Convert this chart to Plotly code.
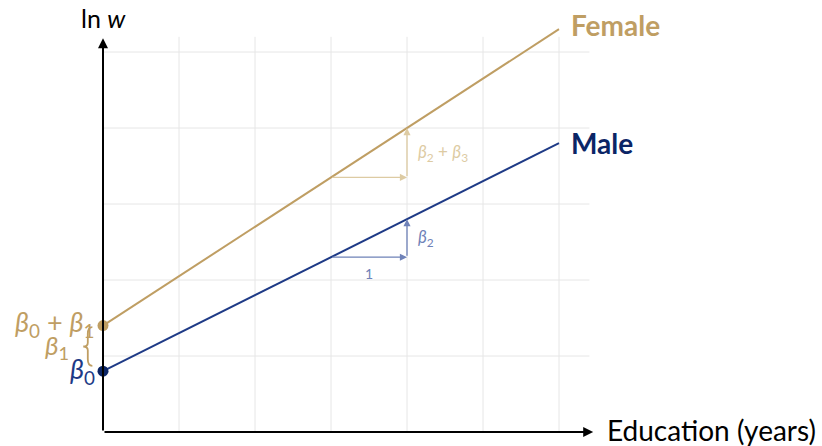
import plotly.graph_objects as go

# ---- data ----
education = [0, 6]
male_intercept = 0.8      # beta0
female_intercept = 1.4    # beta0 + beta1
male_slope = 0.5          # beta2
female_slope = 0.65       # beta2 + beta3
x_grid = [1, 2, 3, 4, 5, 6]
y_grid = [1, 2, 3, 4, 5]
step_from, step_to = 3, 4

GOLD = "#BF9E63"
GOLD_LIGHT = "#DDCBA3"
NAVY = "#1E3A86"
NAVY_DARK = "#0B2566"
NAVY_LIGHT = "#6F82B8"
GRID = "#E6E6E6"
FONT = "Lato"

male = [male_intercept + male_slope * x for x in education]
female = [female_intercept + female_slope * x for x in education]

fig = go.Figure()

shapes = []
for gx in x_grid:
    shapes.append(dict(type="line", x0=gx, x1=gx, y0=0, y1=5.2, line=dict(color=GRID, width=1), layer="below"))
for gy in y_grid:
    shapes.append(dict(type="line", x0=0, x1=6.4, y0=gy, y1=gy, line=dict(color=GRID, width=1), layer="below"))

# brace between intercepts
b0, b1 = male_intercept + 0.07, female_intercept - 0.02
bx, d = -0.14, 0.06
mid = (b0 + b1) / 2
path = (f"M {bx},{b1} Q {bx-d},{b1} {bx-d},{b1-0.09} L {bx-d},{mid+0.05} "
        f"Q {bx-d},{mid} {bx-2*d},{mid} Q {bx-d},{mid} {bx-d},{mid-0.05} "
        f"L {bx-d},{b0+0.09} Q {bx-d},{b0} {bx},{b0}")
shapes.append(dict(type="path", path=path, line=dict(color=GOLD, width=1.8)))

fig.add_trace(go.Scatter(x=education, y=female, mode="lines", line=dict(color=GOLD, width=2), hoverinfo="skip"))
fig.add_trace(go.Scatter(x=education, y=male, mode="lines", line=dict(color=NAVY, width=2), hoverinfo="skip"))
fig.add_trace(go.Scatter(x=[0], y=[female_intercept], mode="markers", marker=dict(color=GOLD, size=11), hoverinfo="skip"))
fig.add_trace(go.Scatter(x=[0], y=[male_intercept], mode="markers", marker=dict(color=NAVY_DARK, size=11), hoverinfo="skip"))

ann = []
def arrow(x0, y0, x1, y1, color, width=1.5, size=1.0, head=2):
    ann.append(dict(x=x1, y=y1, ax=x0, ay=y0, xref="x", yref="y", axref="x", ayref="y",
                    showarrow=True, arrowhead=head, arrowsize=size, arrowwidth=width,
                    arrowcolor=color, text=""))

# axes
arrow(0, 0, 6.45, 0, "black", width=2, size=1.0, head=2)
arrow(0, 0, 0, 5.18, "black", width=2, size=1.0, head=2)

# slope arrows
m3 = male_intercept + male_slope * step_from
m4 = male_intercept + male_slope * step_to
f3 = female_intercept + female_slope * step_from
f4 = female_intercept + female_slope * step_to
arrow(step_from, m3, step_to, m3, NAVY_LIGHT, width=1.3, size=1.1)
arrow(step_to, m3, step_to, m4, NAVY_LIGHT, width=1.3, size=1.1)
arrow(step_from, f3, step_to, f3, GOLD_LIGHT, width=1.3, size=1.1)
arrow(step_to, f3, step_to, f4, GOLD_LIGHT, width=1.3, size=1.1)

def label(x, y, text, color, size, xanchor="center", bold=False, family=FONT):
    if bold:
        text = f"<b>{text}</b>"
    ann.append(dict(x=x, y=y, xref="x", yref="y", text=text, showarrow=False,
                    xanchor=xanchor, yanchor="middle", font=dict(color=color, size=size, family=family)))

label(0, 5.45, "ln <i>w</i>", "black", 25)
label(6.6, 0.02, "Education (years)", "black", 28, xanchor="left")
label(6.13, 5.36, "Female", GOLD, 28, xanchor="left", bold=True)
label(6.13, 3.8, "Male", NAVY_DARK, 28, xanchor="left", bold=True)
label((step_from + step_to) / 2, m3 - 0.22, "1", NAVY_LIGHT, 14)
label(step_to + 0.12, (m3 + m4) / 2, "<i>β</i><sub>2</sub>", NAVY_LIGHT, 17, xanchor="left")
label(step_to + 0.12, (f3 + f4) / 2, "<i>β</i><sub>2</sub> + <i>β</i><sub>3</sub>", GOLD_LIGHT, 17, xanchor="left")
label(-0.08, female_intercept + 0.03, "<i>β</i><sub>0</sub> + <i>β</i><sub>1</sub>", GOLD, 27, xanchor="right")
label(-0.42, mid, "<i>β</i><sub>1</sub>", GOLD, 26, xanchor="right")
label(-0.08, male_intercept + 0.01, "<i>β</i><sub>0</sub>", NAVY, 27, xanchor="right")

fig.update_layout(
    width=822, height=446,
    margin=dict(l=0, r=0, t=0, b=0),
    paper_bgcolor="white", plot_bgcolor="white",
    showlegend=False,
    shapes=shapes, annotations=ann,
    xaxis=dict(range=[-103/76, 719/76], visible=False, fixedrange=True),
    yaxis=dict(range=[-14/76, 432/76], visible=False, fixedrange=True),
)

fig.write_html("out.html", config={"displayModeBar": False, "staticPlot": True},
               post_script="document.body.style.margin='0px';")
